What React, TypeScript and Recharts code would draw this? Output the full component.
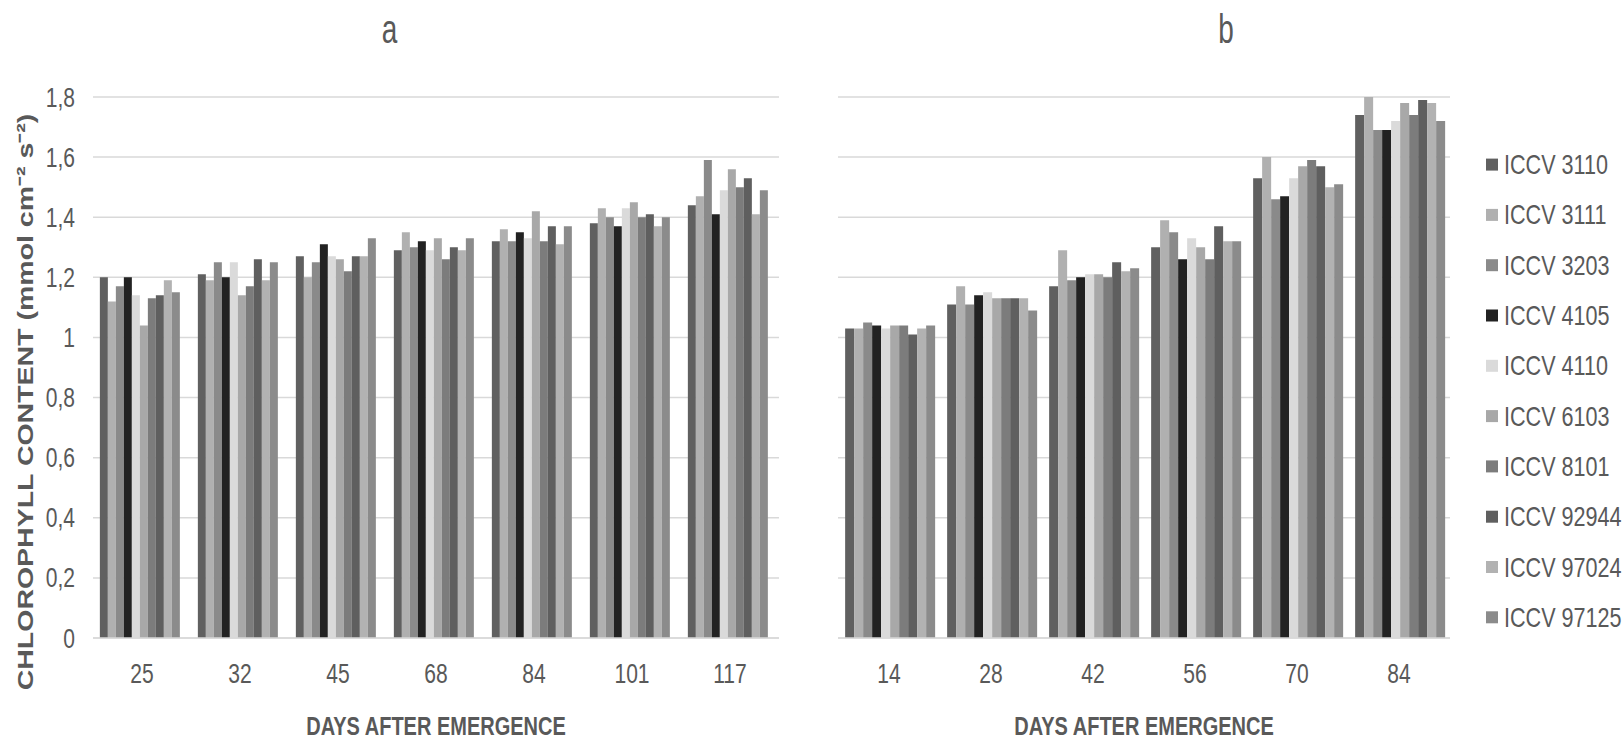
import { Bar, BarChart, CartesianGrid, XAxis, YAxis } from "recharts";

const cultivars = [
  "ICCV 3110",
  "ICCV 3111",
  "ICCV 3203",
  "ICCV 4105",
  "ICCV 4110",
  "ICCV 6103",
  "ICCV 8101",
  "ICCV 92944",
  "ICCV 97024",
  "ICCV 97125",
];
const shades = ["#606060", "#b0b0b0", "#8a8a8a", "#222222", "#dadada", "#a8a8a8", "#7c7c7c", "#5f5f5f", "#b2b2b2", "#8b8b8b"];

// panel a: one row per cultivar, one value per sampling day
const daysA = ["25", "32", "45", "68", "84", "101", "117"];
const valuesA = [
  [1.2, 1.21, 1.27, 1.29, 1.32, 1.38, 1.44],
  [1.12, 1.19, 1.2, 1.35, 1.36, 1.43, 1.47],
  [1.17, 1.25, 1.25, 1.3, 1.32, 1.4, 1.59],
  [1.2, 1.2, 1.31, 1.32, 1.35, 1.37, 1.41],
  [1.14, 1.25, 1.27, 1.29, 1.33, 1.43, 1.49],
  [1.04, 1.14, 1.26, 1.33, 1.42, 1.45, 1.56],
  [1.13, 1.17, 1.22, 1.26, 1.32, 1.4, 1.5],
  [1.14, 1.26, 1.27, 1.3, 1.37, 1.41, 1.53],
  [1.19, 1.19, 1.27, 1.29, 1.31, 1.37, 1.41],
  [1.15, 1.25, 1.33, 1.33, 1.37, 1.4, 1.49],
];

// panel b
const daysB = ["14", "28", "42", "56", "70", "84"];
const valuesB = [
  [1.03, 1.11, 1.17, 1.3, 1.53, 1.74],
  [1.03, 1.17, 1.29, 1.39, 1.6, 1.8],
  [1.05, 1.11, 1.19, 1.35, 1.46, 1.69],
  [1.04, 1.14, 1.2, 1.26, 1.47, 1.69],
  [1.03, 1.15, 1.21, 1.33, 1.53, 1.72],
  [1.04, 1.13, 1.21, 1.3, 1.57, 1.78],
  [1.04, 1.13, 1.2, 1.26, 1.59, 1.74],
  [1.01, 1.13, 1.25, 1.37, 1.57, 1.79],
  [1.03, 1.13, 1.22, 1.32, 1.5, 1.78],
  [1.04, 1.09, 1.23, 1.32, 1.51, 1.72],
];

const yTicks = [0, 0.2, 0.4, 0.6, 0.8, 1, 1.2, 1.4, 1.6, 1.8];

const FONT = "'Liberation Sans', Arial, sans-serif";
const TEXT = "#595959";
const GRID = "#d9d9d9";
// the lettering is set tall and narrow
const SQUEEZE = "scale(0.78,1)";

function rows(days: string[], values: number[][]) {
  return days.map((day, i) => {
    const row: Record<string, string | number> = { day };
    values.forEach((v, j) => (row["s" + j] = v[i]));
    return row;
  });
}

const commaDecimal = (v: number) => String(v).replace(".", ",");

function XTick({ x, y, payload }: any) {
  return (
    <g transform={`translate(${x},${y})`}>
      <text transform={SQUEEZE} textAnchor="middle" dy="0.71em" fill={TEXT} fontSize={27} fontFamily={FONT}>
        {payload.value}
      </text>
    </g>
  );
}

function YTick({ x, y, payload }: any) {
  return (
    <g transform={`translate(${x},${y})`}>
      <text transform={SQUEEZE} textAnchor="end" dy="0.355em" fill={TEXT} fontSize={27} fontFamily={FONT}>
        {commaDecimal(payload.value)}
      </text>
    </g>
  );
}

function AxisTitle({ viewBox }: any) {
  const cx = viewBox.x + viewBox.width / 2;
  const by = viewBox.y + viewBox.height - 3;
  return (
    <g transform={`translate(${cx},${by})`}>
      <text transform="scale(0.8,1)" textAnchor="middle" fill={TEXT} fontSize={25} fontWeight={700} fontFamily={FONT}>
        DAYS AFTER EMERGENCE
      </text>
    </g>
  );
}

function Panel({ data, showY, width, left, right }: { data: Record<string, string | number>[]; showY: boolean; width: number; left: number; right: number }) {
  return (
    <BarChart
      width={width}
      height={740}
      data={data}
      margin={{ top: 97, right, bottom: 2, left }}
      barCategoryGap="7%"
      barGap={0}
    >
      <CartesianGrid vertical={false} stroke={GRID} strokeWidth={1.5} />
      <XAxis
        dataKey="day"
        height={100}
        tickSize={0}
        tickMargin={26}
        axisLine={{ stroke: GRID, strokeWidth: 1.5 }}
        tick={<XTick />}
        label={<AxisTitle />}
      />
      <YAxis
        hide={!showY}
        width={50}
        domain={[0, 1.8]}
        ticks={yTicks}
        interval={0}
        tickSize={0}
        tickMargin={18}
        axisLine={false}
        tickLine={false}
        tick={<YTick />}
      />
      {cultivars.map((name, j) => (
        <Bar key={name} name={name} dataKey={"s" + j} fill={shades[j]} isAnimationActive={false} />
      ))}
    </BarChart>
  );
}

export default function App() {
  return (
    <div style={{ position: "absolute", left: 0, top: 0, width: 1623, height: 740, background: "#fff" }}>
      <div style={{ position: "absolute", left: 0, top: 0 }}>
        <Panel data={rows(daysA, valuesA)} showY width={800} left={43} right={21} />
      </div>
      <div style={{ position: "absolute", left: 800, top: 0 }}>
        <Panel data={rows(daysB, valuesB)} showY={false} width={823} left={38} right={173} />
      </div>
      <svg width={1623} height={740} style={{ position: "absolute", left: 0, top: 0, pointerEvents: "none" }}>
        <g transform="translate(389.5,43)">
          <text transform="scale(0.7,1)" textAnchor="middle" fill={TEXT} fontSize={40} fontFamily={FONT}>
            a
          </text>
        </g>
        <g transform="translate(1226,43)">
          <text transform="scale(0.7,1)" textAnchor="middle" fill={TEXT} fontSize={40} fontFamily={FONT}>
            b
          </text>
        </g>
        <text
          transform="translate(33 402) rotate(-90) scale(1 0.78)"
          textAnchor="middle"
          fill={TEXT}
          fontSize={28.5}
          fontWeight={700}
          fontFamily={FONT}
        >
          CHLOROPHYLL CONTENT (mmol cm⁻² s⁻²)
        </text>
        {cultivars.map((name, j) => {
          const cy = 164.6 + j * 50.3;
          return (
            <g key={name}>
              <rect x={1486} y={cy - 6} width={12} height={12} fill={shades[j]} />
              <g transform={`translate(1504,${cy + 9.5})`}>
                <text transform="scale(0.8,1)" fill={TEXT} fontSize={27} fontFamily={FONT}>
                  {name}
                </text>
              </g>
            </g>
          );
        })}
      </svg>
    </div>
  );
}
